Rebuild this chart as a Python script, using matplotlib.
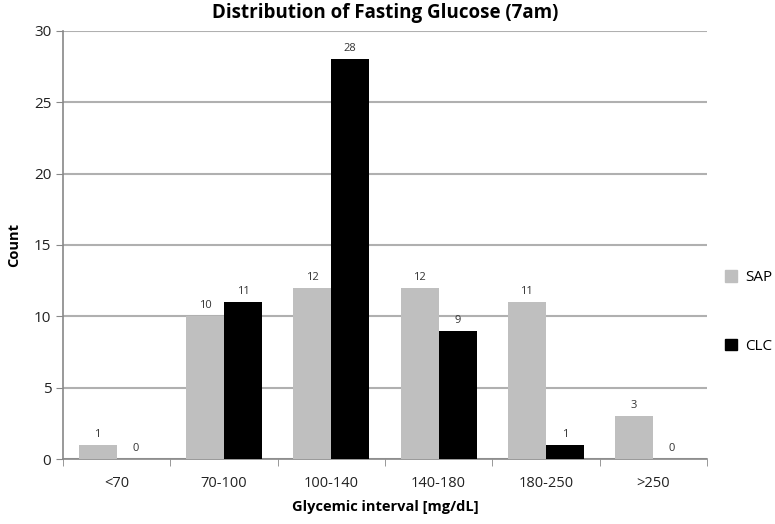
import numpy as np
import matplotlib.pyplot as plt
from matplotlib.patches import Patch

plt.rcParams['font.family'] = ['Open Sans', 'DejaVu Sans']

# datos del grafico
categorias = ["<70", "70-100", "100-140", "140-180", "180-250", ">250"]
sap = [1, 10, 12, 12, 11, 3]
clc = [0, 11, 28, 9, 1, 0]

fig = plt.figure(figsize=(7.75, 5.24), dpi=100)
ax = fig.add_axes([0.0813, 0.124, 0.8307, 0.817])

x = np.arange(len(categorias))
ancho = 0.354
b1 = ax.bar(x - ancho / 2, sap, ancho, color="#bfbfbf", label="SAP", zorder=3)
b2 = ax.bar(x + ancho / 2, clc, ancho, color="black", label="CLC", zorder=3)

# etiquetas de valores
for barras in (b1, b2):
    for b in barras:
        ax.text(b.get_x() + b.get_width() / 2, b.get_height() + 0.35,
                str(int(b.get_height())), ha="center", va="bottom",
                fontsize=8, color="#333333")

ax.set_xlim(-0.5, len(categorias) - 0.5)
ax.set_ylim(0, 30)
ax.set_yticks(range(0, 31, 5))
ax.set_xticks(x)
ax.set_xticklabels(categorias, fontsize=10.5, color="#222222")
ax.set_xticks(np.arange(-0.5, len(categorias), 1), minor=True)
ax.tick_params(axis="x", which="major", length=0, pad=12)
ax.tick_params(axis="x", which="minor", length=5, color="#888888")
ax.tick_params(axis="y", length=5, color="#888888", labelsize=11, labelcolor="#222222")

ax.grid(axis="y", color="#b0b0b0", linewidth=1.5, zorder=0)
for lado in ("top", "right"):
    ax.spines[lado].set_visible(False)
for lado in ("left", "bottom"):
    ax.spines[lado].set_color("#888888")
    ax.spines[lado].set_linewidth(1.2)

ax.set_title("Distribution of Fasting Glucose (7am)", fontsize=13.5, fontweight="bold", pad=9)
ax.set_xlabel("Glycemic interval [mg/dL]", fontsize=10.5, fontweight="bold", labelpad=7)
ax.set_ylabel("Count", fontsize=10.5, fontweight="bold", labelpad=9)

manejadores = [Patch(color="#bfbfbf", label="SAP"), Patch(color="black", label="CLC")]
fig.legend(handles=manejadores, loc="center left", bbox_to_anchor=(0.918, 0.405),
           frameon=False, fontsize=11, labelspacing=3.5, handlelength=0.8,
           handleheight=0.8, handletextpad=0.5)

fig.savefig("out.png", dpi=100)
